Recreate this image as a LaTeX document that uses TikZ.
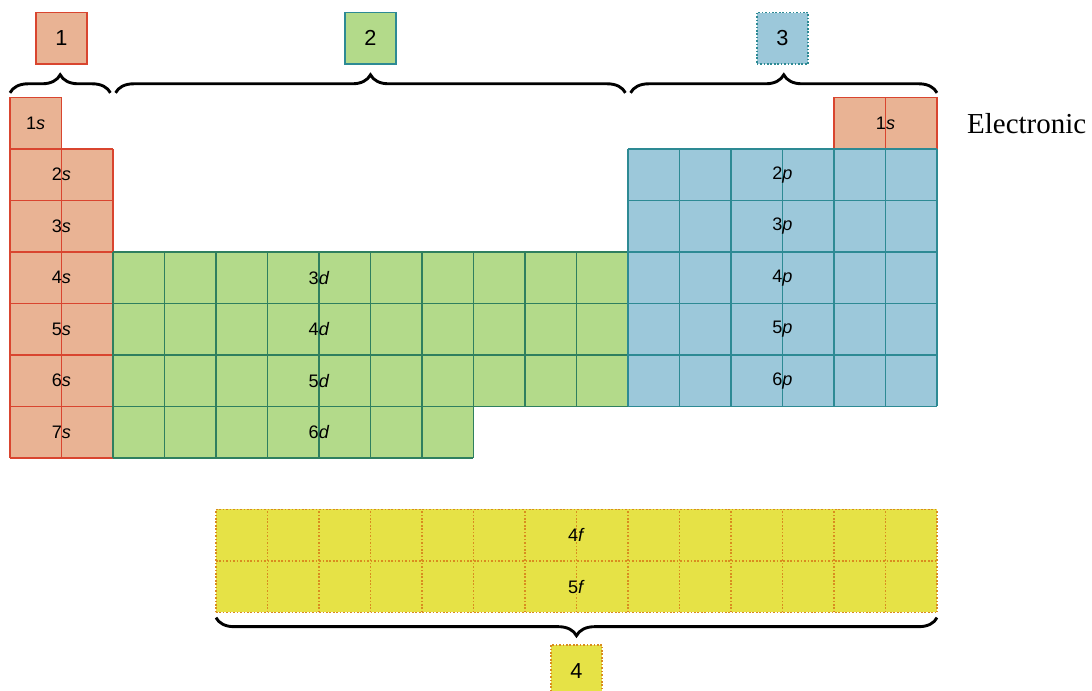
\documentclass[tikz,border=0pt]{standalone}
\usepackage{fontspec}
\setmainfont{Liberation Serif}
\setsansfont{Liberation Sans}
\usetikzlibrary{decorations.pathreplacing}

\definecolor{sfill}{HTML}{E9B394}
\definecolor{sline}{HTML}{D9452F}
\definecolor{dfill}{HTML}{B3DA8A}
\definecolor{dline}{HTML}{2F7F5F}
\definecolor{pfill}{HTML}{9CC8DA}
\definecolor{pline}{HTML}{2D8A94}
\definecolor{ffill}{HTML}{E6E246}
\definecolor{fline}{HTML}{D98C1F}

\begin{document}
\begin{tikzpicture}[x=1cm, y=1cm,
	sgrid/.style={draw=sline, line width=0.9pt},
	dgrid/.style={draw=dline, line width=0.9pt},
	pgrid/.style={draw=pline, line width=0.9pt},
	fgrid/.style={draw=fline, line width=0.9pt, densely dotted},
	cellname/.style={font=\sffamily\normalsize, inner sep=1pt},
	groupbrace/.style={decorate, decoration={brace, amplitude=10pt}, line width=1.6pt},
	groupbox/.style={minimum size=1cm, inner sep=0pt, line width=0.9pt, font=\sffamily\large}]
	\useasboundingbox (-0.194,-4.524) rectangle (21.01,8.893);
	\clip (-0.194,-4.524) rectangle (21.01,8.893);
	% s block
	\fill[sfill] (0,0) rectangle (2,6) (0,6) rectangle (1,7);
	\draw[sgrid] (0,0) grid (2,6);
	\draw[sgrid] (0,6) rectangle (1,7);
	% helium, back over the p block
	\fill[sfill] (16,6) rectangle (18,7);
	\draw[sgrid] (16,6) grid (18,7);
	% d block, last period has seven cells
	\fill[dfill] (2,1) rectangle (12,4) (2,0) rectangle (9,1);
	\draw[dgrid] (2,1) grid (12,4);
	\draw[dgrid] (2,0) grid (9,1);
	% p block
	\fill[pfill] (12,1) rectangle (18,6);
	\draw[pgrid] (12,1) grid (18,6);
	% f block
	\fill[ffill] (4,-3) rectangle (18,-1);
	\draw[fgrid] (4,-3) grid (18,-1);
	% shell names
	\node[cellname] (s1) at (0.5,6.5) {1\textit{s}};
	\node[cellname] (he) at (17,6.5) {1\textit{s}};
	\foreach \n in {2,...,7}
		\node[cellname] (s\n) at (1,7.5-\n) {\n\textit{s}};
	\foreach \n in {3,...,6}
		\node[cellname] (d\n) at (6,6.5-\n) {\n\textit{d}};
	\foreach \n in {2,...,6}
		\node[cellname] (p\n) at (15,7.5-\n) {\n\textit{p}};
	\node[cellname] (f4) at (11,-1.5) {4\textit{f}};
	\node[cellname] (f5) at (11,-2.5) {5\textit{f}};
	% braces
	\draw[groupbrace] (0,7.09) -- (1.95,7.09);
	\draw[groupbrace] (2.05,7.09) -- (11.95,7.09);
	\draw[groupbrace] (12.05,7.09) -- (18,7.09);
	\draw[groupbrace] (18,-3.1) -- (4,-3.1);
	% group boxes
	\node[groupbox, fill=sfill, draw=sline] (grp1) at (1,8.15) {1};
	\node[groupbox, fill=dfill, draw=pline] (grp2) at (7,8.15) {2};
	\node[groupbox, fill=pfill, draw=pline, densely dotted] (grp3) at (15,8.15) {3};
	\node[groupbox, fill=ffill, draw=fline, densely dotted] (grp4) at (11,-4.13) {4};
	\node[anchor=base west, inner sep=0pt, font=\fontsize{16}{19}\selectfont] (title) at (18.58,6.31) {Electronic};
\end{tikzpicture}
\end{document}
